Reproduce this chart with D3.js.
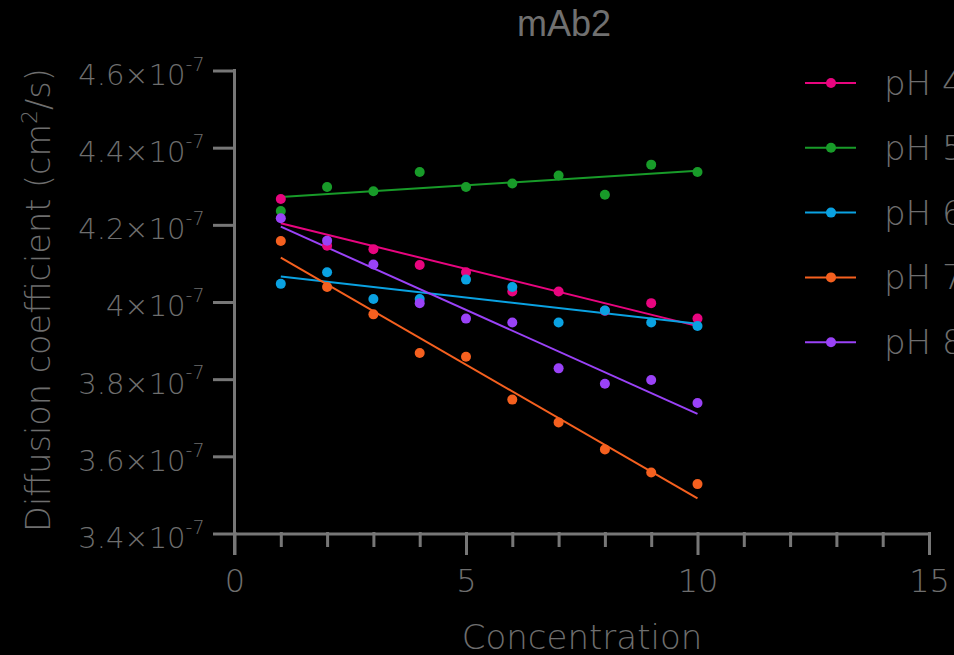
<!DOCTYPE html>
<html>
<head>
<meta charset="utf-8">
<script src="https://cdn.jsdelivr.net/npm/d3@7"></script>
<style>
  body { margin: 0; background: #000; }
  svg { display: block; background: #000; }
  .lbl { font-family: "DejaVu Sans", sans-serif; font-weight: 200; fill: #6e6e6e; }
</style>
</head>
<body>
<div id="chart"></div>
<script>
// concentration values (x)
var concentration = [1, 2, 3, 4, 5, 6, 7, 8, 9, 10];

// diffusion coefficient, in units of 1e-7 cm2/s
var ph4 = [4.267, 4.146, 4.137, 4.096, 4.077, 4.027, 4.027, 3.977, 3.997, 3.957];
var ph5 = [4.236, 4.298, 4.287, 4.337, 4.298, 4.307, 4.328, 4.278, 4.356, 4.337];
var ph6 = [4.047, 4.077, 4.008, 4.008, 4.058, 4.039, 3.947, 3.978, 3.947, 3.938];
var ph7 = [4.158, 4.039, 3.968, 3.868, 3.858, 3.747, 3.688, 3.618, 3.558, 3.528];
var ph8 = [4.217, 4.159, 4.097, 3.997, 3.957, 3.947, 3.828, 3.788, 3.798, 3.738];

var seriesNames = ["pH 4", "pH 5", "pH 6", "pH 7", "pH 8"];
var seriesColors = ["#e8057f", "#189b29", "#0aa2e2", "#f5601f", "#9a42f7"];

var yTicks = [3.4, 3.6, 3.8, 4.0, 4.2, 4.4, 4.6];
var xMajor = [0, 5, 10, 15];
var xMinor = [1, 2, 3, 4, 6, 7, 8, 9, 11, 12, 13, 14];

var series = [ph4, ph5, ph6, ph7, ph8].map(function(vals, i) {
  return {
    name: seriesNames[i],
    color: seriesColors[i],
    points: concentration.map(function(c, j) { return {x: c, y: vals[j]}; })
  };
});

var width = 954, height = 655;
var axisColor = "#777";

var svg = d3.select("#chart").append("svg")
  .attr("width", width)
  .attr("height", height);

var x = d3.scaleLinear().domain([0, 15]).range([234.5, 929]);
var y = d3.scaleLinear().domain([3.4, 4.6]).range([533.5, 70.5]);

// least squares fit, drawn over the data range
function fit(points) {
  var mx = d3.mean(points, function(d) { return d.x; }),
    my = d3.mean(points, function(d) { return d.y; }),
    sxy = d3.sum(points, function(d) { return (d.x - mx) * (d.y - my); }),
    sxx = d3.sum(points, function(d) { return (d.x - mx) * (d.x - mx); }),
    b = sxy / sxx,
    a = my - b * mx,
    ext = d3.extent(points, function(d) { return d.x; });
  return ext.map(function(v) { return {x: v, y: a + b * v}; });
}

function styleAxis(g) {
  g.selectAll("path, line")
    .attr("stroke", axisColor)
    .attr("stroke-width", 3)
    .attr("stroke-linecap", "square");
}

// y axis
var gy = svg.append("g")
  .attr("transform", "translate(" + x(0) + ",0)")
  .call(d3.axisLeft(y).tickValues(yTicks).tickSize(20).tickSizeOuter(0).tickPadding(10));
gy.select(".domain").remove();
gy.append("line")
  .attr("y1", y(4.6)).attr("y2", y(3.4) + 20);
styleAxis(gy);
gy.selectAll(".tick text")
  .attr("class", "lbl")
  .attr("font-size", 29)
  .attr("dy", "0.48em")
  .each(function(d) {
    var t = d3.select(this).text("");
    t.append("tspan").text(d3.format("")(+d.toFixed(1)) + "\u00d710");
    t.append("tspan").attr("font-size", 19).attr("dy", "-0.75em").text("-7");
  });

// x axis: minor and major ticks
var gxMinor = svg.append("g")
  .attr("transform", "translate(0," + y(3.4) + ")")
  .call(d3.axisBottom(x).tickValues(xMinor).tickSize(12).tickSizeOuter(0).tickFormat(""));
gxMinor.select(".domain").remove();
styleAxis(gxMinor);

var gx = svg.append("g")
  .attr("transform", "translate(0," + y(3.4) + ")")
  .call(d3.axisBottom(x).tickValues(xMajor).tickSize(20).tickSizeOuter(0).tickPadding(16));
styleAxis(gx);
gx.selectAll(".tick text")
  .attr("class", "lbl")
  .attr("font-size", 32);

// fitted lines
var line = d3.line()
  .x(function(d) { return x(d.x); })
  .y(function(d) { return y(d.y); });

svg.append("g").selectAll("path.fit")
  .data(series)
  .join("path")
  .attr("class", "fit")
  .attr("d", function(d) { return line(fit(d.points)); })
  .attr("fill", "none")
  .attr("stroke", function(d) { return d.color; })
  .attr("stroke-width", 2);

// data points
svg.append("g").selectAll("g.pts")
  .data(series)
  .join("g")
  .attr("class", "pts")
  .attr("fill", function(d) { return d.color; })
  .selectAll("circle")
  .data(function(d) { return d.points; })
  .join("circle")
  .attr("cx", function(d) { return x(d.x); })
  .attr("cy", function(d) { return y(d.y); })
  .attr("r", 5);

// legend (text runs off the right edge, as in the original)
var legend = svg.append("g").selectAll("g.leg")
  .data(series)
  .join("g")
  .attr("class", "leg")
  .attr("transform", function(d, i) { return "translate(805," + (83 + i * 64.8) + ")"; });
legend.append("line")
  .attr("x1", 0).attr("x2", 51)
  .attr("stroke", function(d) { return d.color; })
  .attr("stroke-width", 2);
legend.append("circle")
  .attr("cx", 26).attr("r", 5)
  .attr("fill", function(d) { return d.color; });
legend.append("text")
  .attr("class", "lbl")
  .attr("x", 79).attr("y", 12)
  .attr("font-size", 34)
  .text(function(d) { return d.name; });

// titles
svg.append("text")
  .attr("x", 564).attr("y", 36)
  .attr("text-anchor", "middle")
  .attr("font-family", "'Liberation Sans', Arial, sans-serif")
  .attr("font-size", 36)
  .attr("fill", "#707070")
  .text("mAb2");

svg.append("text")
  .attr("class", "lbl")
  .attr("x", 582).attr("y", 649)
  .attr("text-anchor", "middle")
  .attr("font-size", 34)
  .text("Concentration");

var yl = svg.append("text")
  .attr("class", "lbl")
  .attr("transform", "translate(50,300) rotate(-90)")
  .attr("text-anchor", "middle")
  .attr("font-size", 33.5);
yl.append("tspan").text("Diffusion coefficient (cm");
yl.append("tspan").attr("font-size", 22).attr("dy", "-0.6em").text("2");
yl.append("tspan").attr("dy", "0.4em").text("/s)");
</script>
</body>
</html>
